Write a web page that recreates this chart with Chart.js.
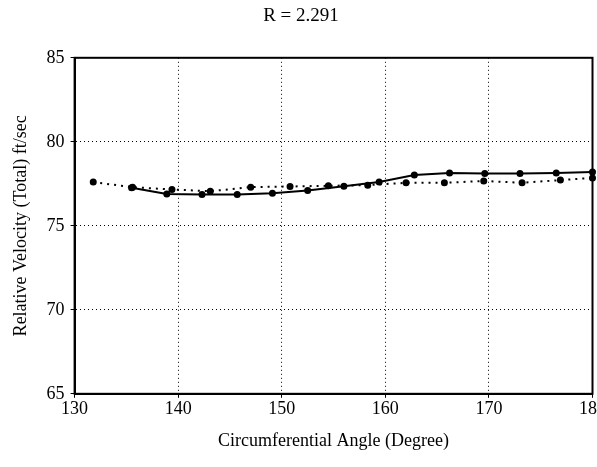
<!DOCTYPE html>
<html>
<head>
<meta charset="utf-8">
<script src="https://cdn.jsdelivr.net/npm/chart.js@4/dist/chart.umd.min.js"></script>
<style>
  body { margin: 0; background: #fff; }
  #wrap { width: 597px; height: 467px; }
</style>
</head>
<body>
<div id="wrap"><canvas id="grafico"></canvas></div>
<script>
// datos
titulo = "R = 2.291"
ejeX = "Circumferential Angle (Degree)"
ejeY = "Relative Velocity (Total) ft/sec"

anguloSolido = [135.5, 138.9, 142.3, 145.7, 149.1, 152.5, 156.0, 159.4, 162.8, 166.2, 169.6, 173.0, 176.5, 180]
velSolido = [77.26, 76.9, 76.86, 76.86, 76.94, 77.1, 77.36, 77.61, 78.03, 78.15, 78.12, 78.12, 78.15, 78.2]

anguloPunteado = [131.8, 135.6, 139.4, 143.1, 147.0, 150.8, 154.5, 158.3, 162.0, 165.7, 169.5, 173.2, 176.9, 180]
velPunteado = [77.6, 77.3, 77.16, 77.06, 77.3, 77.34, 77.38, 77.42, 77.56, 77.56, 77.67, 77.56, 77.72, 77.85]

function puntos(xs, ys) {
	return xs.map(function (x, i) { return {x: x, y: ys[i]}; });
}

fuente = "'Liberation Serif', 'Times New Roman', serif"

new Chart(document.getElementById("grafico").getContext("2d"), {
	type: "line",
	data: {
		datasets: [
			{
				data: puntos(anguloSolido, velSolido),
				borderColor: "#000", backgroundColor: "#000",
				borderWidth: 2, pointRadius: 2.5, pointHoverRadius: 2.5,
				tension: 0, clip: false
			},
			{
				data: puntos(anguloPunteado, velPunteado),
				borderColor: "#000", backgroundColor: "#000",
				borderWidth: 2, borderDash: [2, 5], pointRadius: 2.5, pointHoverRadius: 2.5,
				tension: 0, clip: false
			}
		]
	},
	options: {
		responsive: true,
		maintainAspectRatio: false,
		animation: false,
		layout: { padding: { left: 6, right: 1, top: 5, bottom: 11 } },
		plugins: {
			legend: { display: false },
			tooltip: { enabled: false },
			title: {
				display: true, text: titulo, color: "#000",
				font: { family: fuente, size: 19, weight: "normal" },
				padding: { top: 0, bottom: 30 }
			}
		},
		scales: {
			x: {
				type: "linear", min: 130, max: 180,
				afterFit: function (scale) { scale.paddingRight = 0; },
				ticks: { stepSize: 10, color: "#000", font: { family: fuente, size: 18 }, padding: 1 },
				grid: { color: "#000", lineWidth: 1, tickLength: 4 },
				border: { display: true, color: "#000", width: 2, dash: [1, 3] },
				title: { display: true, text: ejeX, color: "#000", font: { family: fuente, size: 18 }, padding: { top: 9 } }
			},
			y: {
				min: 65, max: 85,
				ticks: { stepSize: 5, color: "#000", font: { family: fuente, size: 18 }, padding: 6 },
				grid: { color: "#000", lineWidth: 1, tickLength: 4 },
				border: { display: true, color: "#000", width: 2, dash: [1, 3] },
				title: { display: true, text: ejeY, color: "#000", font: { family: fuente, size: 18 }, padding: { bottom: 9 } }
			}
		}
	},
	plugins: [{
		// marco cerrado alrededor del area
		id: "marco",
		afterDraw: function (chart) {
			var a = chart.chartArea, ctx = chart.ctx;
			ctx.save();
			ctx.strokeStyle = "#000";
			ctx.lineWidth = 2;
			ctx.setLineDash([]);
			ctx.strokeRect(a.left, a.top, a.right - a.left, a.bottom - a.top);
			ctx.restore();
		}
	}]
});
</script>
</body>
</html>
